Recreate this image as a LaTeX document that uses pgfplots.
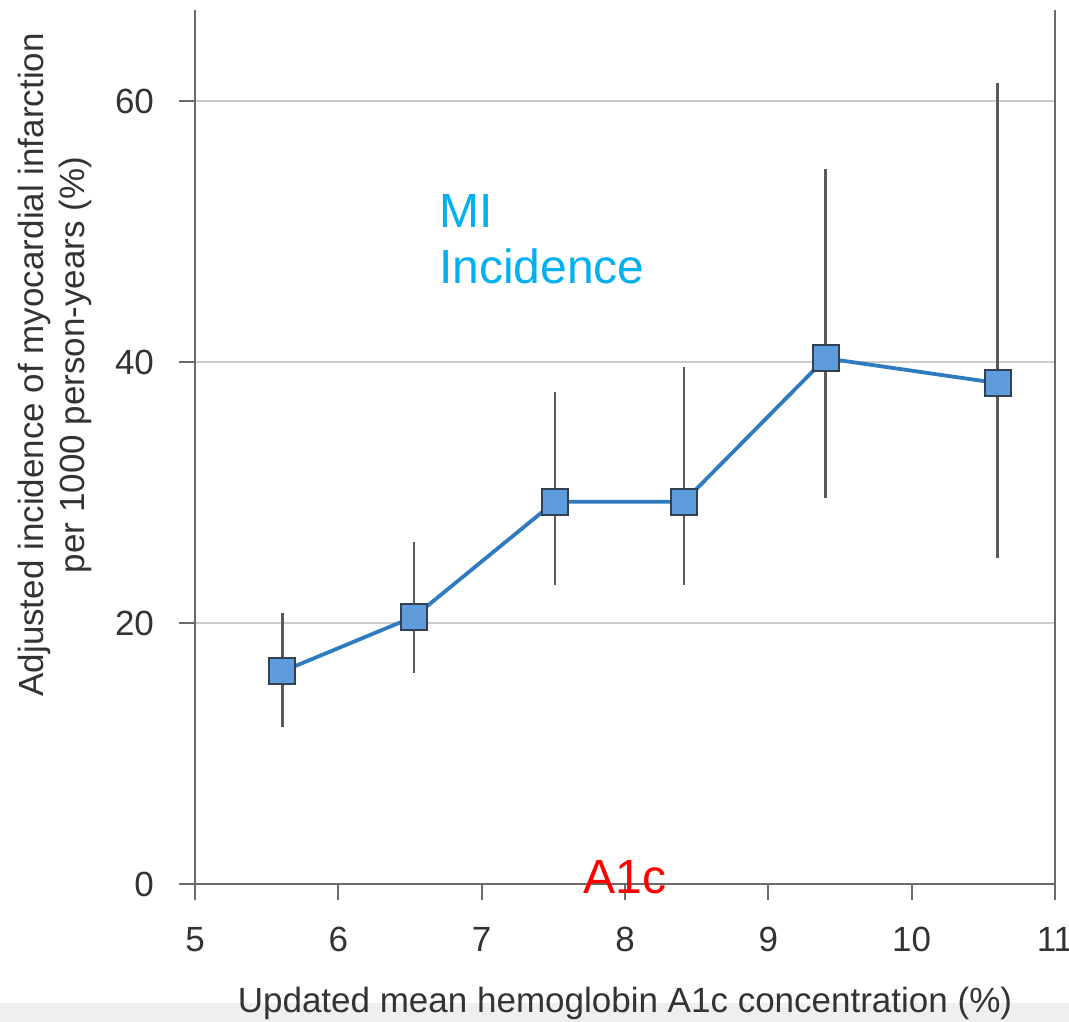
\documentclass[border=0pt]{standalone}
\usepackage{pgfplots}
\pgfplotsset{compat=1.18}
\usepackage{fontspec}
\setmainfont{Liberation Sans}
\definecolor{axgray}{HTML}{6A6A6A}
\definecolor{gridgray}{HTML}{CCCCCC}
\definecolor{errgray}{HTML}{5A5A5A}
\definecolor{linblue}{HTML}{2F7BC0}
\definecolor{mkfill}{HTML}{5E9CDB}
\definecolor{mkdraw}{HTML}{33404F}
\definecolor{micyan}{HTML}{00B0F0}
\definecolor{bandgray}{HTML}{EFEFEF}
\begin{document}
\begin{tikzpicture}
\begin{axis}[
  name=ax,
  scale only axis,
  width=430pt, height=437pt,
  xmin=5, xmax=11, ymin=0, ymax=67,
  xtick={5,6,7,8,9,10,11},
  ytick={0,20,40,60},
  axis x line*=bottom,
  axis y line*=left,
  axis line style={axgray, line width=1.3pt},
  tick style={axgray, line width=1.1pt},
  tick align=outside,
  major tick length=8pt,
  ymajorgrids,
  grid style={gridgray, line width=0.9pt},
  /pgf/number format/assume math mode=true,
  tick label style={font=\fontsize{17.5}{20}\selectfont, text=black!80},
  xticklabel style={yshift=-10pt},
  yticklabel style={xshift=-9pt},
  xlabel={Updated mean hemoglobin A1c concentration (\%)},
  ylabel={Adjusted incidence of myocardial infarction\\per 1000 person-years (\%)},
  label style={font=\fontsize{17.5}{20.5}\selectfont, text=black!80},
  xlabel style={at={(axis description cs:0.5,-0.1465)}, anchor=base},
  ylabel style={at={(axis description cs:-0.163,0.594)}, rotate=0, anchor=center, align=center},
  clip=false,
]
\fill[bandgray] (rel axis cs:-0.23,-0.136) rectangle (rel axis cs:1.03,-0.16);
\addplot[
  linblue, line width=1.9pt,
  mark=square*, mark size=6.5pt,
  mark options={fill=mkfill, draw=mkdraw, line width=1pt},
  error bars/.cd, y dir=both, y explicit,
  error mark=none,
  error bar style={errgray, line width=1.2pt},
] coordinates {
  (5.61,16.3) += (0,4.5) -= (0,4.3)
  (6.53,20.5) += (0,5.7) -= (0,4.3)
  (7.51,29.3) += (0,8.4) -= (0,6.4)
  (8.41,29.3) += (0,10.3) -= (0,6.4)
  (9.40,40.3) += (0,14.5) -= (0,10.7)
  (10.60,38.4) += (0,23.0) -= (0,13.4)
};
\draw[axgray, line width=1.3pt] (rel axis cs:1,0) -- (rel axis cs:1,1);
\node[micyan, anchor=north west, align=left, font=\fontsize{24}{28}\selectfont, inner sep=0pt]
  at (axis cs:6.7,52.9) {MI\\Incidence};
\node[red, anchor=base, font=\fontsize{24}{28}\selectfont, inner sep=0pt]
  at (axis cs:8.0,-0.7) {A1c};
\end{axis}
\pgfresetboundingbox
\path[use as bounding box] ([xshift=-97.5pt,yshift=-68.5pt]ax.south west) rectangle ([xshift=7pt,yshift=5pt]ax.north east);
\end{tikzpicture}
\end{document}
